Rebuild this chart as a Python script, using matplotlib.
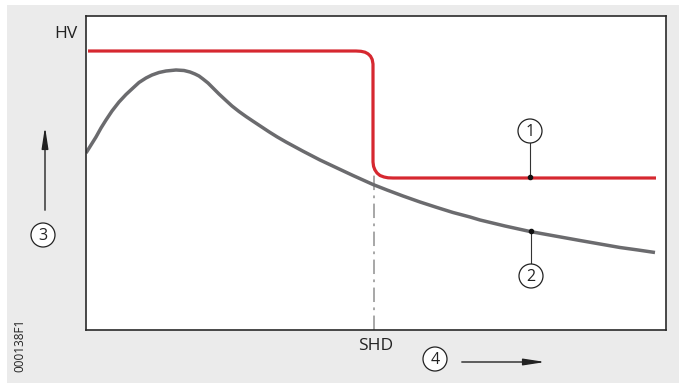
import matplotlib
matplotlib.use('Agg')
import matplotlib.pyplot as plt
from matplotlib.patches import Circle, Rectangle

plt.rcParams['font.family'] = ['Open Sans', 'DejaVu Sans']

# curve 2 (grey), x / y in chart units (0..580, 0..314)
grey_x = [0, 5, 10, 15, 20, 26, 33, 40, 47, 53, 60, 66, 73, 80, 90, 98, 104,
          109, 113, 117, 122, 127, 133, 140, 146, 153, 160, 167, 175, 183,
          191, 200, 217, 234, 251, 267, 287, 301, 317, 334, 351, 367, 384,
          394, 419, 444, 469, 494, 514, 534, 552, 569]
grey_y = [177, 185, 193, 202, 210, 219, 228, 235.5, 242, 247.5, 252, 255,
          257.5, 259, 260, 259.5, 258, 256, 254, 251, 247, 242, 236, 229.5,
          224, 218.5, 213.5, 208.8, 203.5, 198.2, 193.2, 188, 178.8, 170,
          162, 154.5, 145.5, 140, 134, 128, 122.5, 117.5, 113, 110, 104,
          98.5, 94, 89.5, 86, 82.5, 80, 77.5]

# curve 1 (red)
red_x = [2, 270, 275, 279, 282, 284.5, 286.2, 287, 287, 287.6, 289, 291,
         294, 298, 302, 307, 570]
red_y = [279, 279, 278.7, 277.8, 276.2, 273.8, 270.5, 266, 168, 163.5, 160,
         157, 154.5, 153, 152.2, 152, 152]

shd_x = 288
marker1 = (444, 153)
marker2 = (445, 99)

fig = plt.figure(figsize=(6.79, 3.83), dpi=100)
fig.patch.set_facecolor('white')
fig.patches.append(Rectangle((7 / 679, 0), 1, 378 / 383, transform=fig.transFigure,
                             facecolor='#ebebeb', edgecolor='none', zorder=-1))

ax = fig.add_axes([86 / 679, 53 / 383, 580 / 679, 314 / 383])
ax.set_facecolor('white')
ax.set_xlim(0, 580)
ax.set_ylim(0, 314)
ax.set_xticks([])
ax.set_yticks([])
for s in ax.spines.values():
    s.set_color('#2a2a2a')
    s.set_linewidth(1.2)

ax.plot([shd_x, shd_x], [0, 167], color='#a0a0a0', lw=1.3, ls=(0, (8, 3, 1.5, 3)), zorder=1)
ax.plot(grey_x, grey_y, color='#6b6b6e', lw=2.5, solid_capstyle='butt',
        solid_joinstyle='round', zorder=2)
ax.plot(red_x, red_y, color='#d62830', lw=2.3, solid_capstyle='butt',
        solid_joinstyle='round', zorder=3)

# callouts 1 and 2
ax.plot([marker1[0], marker1[0]], [marker1[1], 187], color='#333333', lw=0.8, zorder=4)
ax.plot(*marker1, 'o', color='#111111', ms=3, zorder=5)
ax.plot([marker2[0], marker2[0]], [66, marker2[1]], color='#333333', lw=0.8, zorder=4)
ax.plot(*marker2, 'o', color='#111111', ms=3, zorder=5)

circles = [(444, 199, '1'), (445, 54, '2'), (-43, 95, '3'), (349, -29, '4')]
for cx, cy, lab in circles:
    ax.add_patch(Circle((cx, cy), 12, facecolor='white', edgecolor='#222222',
                        lw=0.9, clip_on=False, zorder=6))
    ax.text(cx, cy - 1, lab, ha='center', va='center', fontsize=11.5,
            color='#222222', clip_on=False, zorder=7)

# axis arrows
ax.annotate('', xy=(-41, 206), xytext=(-41, 117), annotation_clip=False,
            arrowprops=dict(arrowstyle='-|>,head_length=1.3,head_width=0.2',
                            color='#222222', lw=1.0))
ax.annotate('', xy=(462, -32), xytext=(373, -32), annotation_clip=False,
            arrowprops=dict(arrowstyle='-|>,head_length=1.3,head_width=0.2',
                            color='#222222', lw=1.0))

ax.text(-9, 296, 'HV', ha='right', va='center', fontsize=12.5, color='#222222', clip_on=False)
ax.text(290, -16, 'SHD', ha='center', va='center', fontsize=12.5, color='#222222', clip_on=False)
fig.text(20 / 679, 1 - 345 / 383, '000138F1', rotation=90, ha='center', va='center',
         fontsize=8.5, color='#222222')

fig.savefig('out.png', dpi=100)
